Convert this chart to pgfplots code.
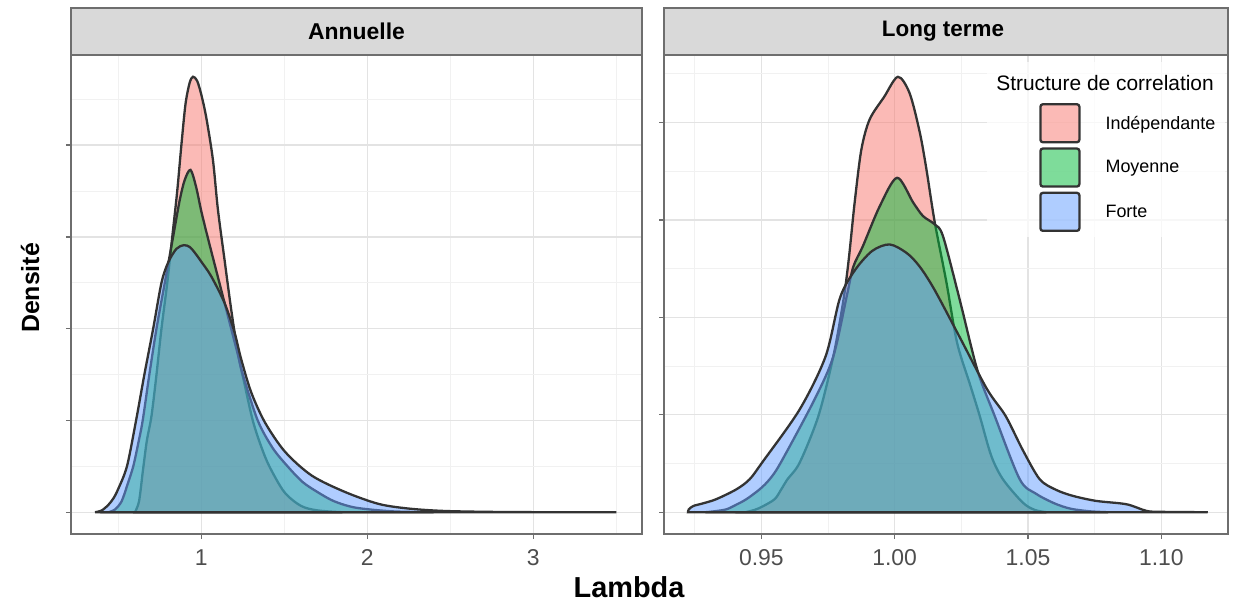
\documentclass[border=0pt]{standalone}
\usepackage{fontspec}
\setmainfont{Liberation Sans}
\usepackage{pgfplots}
\pgfplotsset{compat=1.18}
\definecolor{cpink}{HTML}{F8766D}
\definecolor{cgreen}{HTML}{00BA38}
\definecolor{cblue}{HTML}{619CFF}
\definecolor{outl}{HTML}{333333}
\definecolor{gmaj}{HTML}{E3E3E3}
\definecolor{gmin}{HTML}{F1F1F1}
\definecolor{bord}{HTML}{6E6E6E}
\definecolor{stripc}{HTML}{D9D9D9}
\definecolor{ticktxt}{HTML}{4D4D4D}
\pgfplotsset{
  dens/.style={draw=outl, line width=2.3bp, fill opacity=0.5, draw opacity=1, smooth, tension=0.5, mark=none},
  panel/.style={scale only axis, height=479bp, anchor=south west,
    axis line style={bord, line width=1.6bp},
    grid=both, major grid style={gmaj, line width=1.4bp}, minor grid style={gmin, line width=0.8bp},
    tick align=outside, major tick length=5bp, minor tick length=0pt,
    tick style={bord, line width=1.4bp}, tick pos=left,
    yticklabels={},
    xticklabel style={font=\fontsize{23}{25}\selectfont, text=ticktxt, yshift=-7bp},
  },
}
\begin{document}
\begin{tikzpicture}
\useasboundingbox (0,0) rectangle (1238bp,601bp);
% ---------------- Annuelle ----------------
\begin{axis}[panel, at={(71bp,67bp)}, width=571bp,
  xmin=0.215, xmax=3.655, ymin=-0.237, ymax=4.982,
  xtick={1,2,3}, xticklabels={1,2,3}, minor xtick={0.5,1.5,2.5,3.5},
  ytick={0,1,2,3,4}, minor ytick={0.5,1.5,2.5,3.5,4.5}]
\addplot[dens, fill=cpink] coordinates {
(0.60,0) (0.625,0.12) (0.648,0.45) (0.672,0.78) (0.70,1.05) (0.73,1.5) (0.76,2.0) (0.795,2.5)
(0.825,3.0) (0.855,3.5) (0.88,4.0) (0.905,4.45) (0.93,4.68) (0.95,4.745) (0.975,4.70) (1.00,4.55)
(1.03,4.30) (1.07,3.84) (1.10,3.30) (1.14,2.75) (1.18,2.21) (1.22,1.74) (1.26,1.4) (1.31,1.0)
(1.36,0.72) (1.41,0.5) (1.50,0.22) (1.60,0.07) (1.70,0.02) (1.85,0)} \closedcycle;
\addplot[dens, fill=cgreen] coordinates {
(0.44,0) (0.48,0.03) (0.52,0.12) (0.555,0.3) (0.59,0.5) (0.62,0.75) (0.647,1.0) (0.687,1.5)
(0.73,2.0) (0.78,2.5) (0.83,3.0) (0.87,3.4) (0.90,3.62) (0.935,3.73) (0.968,3.55) (1.00,3.28)
(1.038,3.0) (1.109,2.5) (1.18,2.0) (1.22,1.72) (1.25,1.5) (1.34,1.0) (1.43,0.7) (1.52,0.5)
(1.61,0.33) (1.70,0.22) (1.80,0.12) (1.93,0.05) (2.15,0.01) (2.4,0)} \closedcycle;
\addplot[dens, fill=cblue] coordinates {
(0.36,0) (0.40,0.02) (0.44,0.08) (0.47,0.15) (0.496,0.24) (0.552,0.5) (0.607,1.0) (0.657,1.5)
(0.71,2.0) (0.76,2.5) (0.80,2.72) (0.85,2.87) (0.895,2.91) (0.93,2.89) (0.96,2.83) (1.00,2.73)
(1.06,2.57) (1.14,2.28) (1.20,1.96) (1.24,1.67) (1.30,1.31) (1.383,0.98) (1.504,0.66) (1.665,0.40)
(1.867,0.22) (2.07,0.09) (2.25,0.04) (2.45,0.015) (2.7,0.005) (3.0,0.001) (3.5,0)} \closedcycle;
\end{axis}
% ---------------- Long terme ----------------
\begin{axis}[panel, at={(664bp,67bp)}, width=564bp,
  xmin=0.9135, xmax=1.125, ymin=-1.117, ymax=23.46,
  xtick={0.95,1,1.05,1.1}, xticklabels={0.95,1.00,1.05,1.10}, minor xtick={0.925,0.975,1.025,1.075},
  ytick={0,5,10,15,20}, minor ytick={2.5,7.5,12.5,17.5,22.5},
  legend cell align=left,
  legend image code/.code={\draw[#1, line width=2.3bp, rounded corners=2.5bp] (0bp,-19bp) rectangle (39bp,19bp);},
  legend style={at={(axis description cs:0.665,0.90)}, anchor=north west, draw=none, fill=none,
    inner sep=0pt, row sep=4bp, font=\fontsize{18}{20}\selectfont, nodes={inner sep=1bp},
    /tikz/every odd column/.append style={column sep=24bp}}]
\fill[white, opacity=0.75] (axis description cs:0.572,0.62) rectangle (axis description cs:0.995,0.985);
\addplot[dens, fill=cpink] coordinates {
(0.944,0) (0.9475,0.12) (0.9505,0.3) (0.955,0.67) (0.9575,1.18) (0.9598,1.69) (0.9644,2.55)
(0.9714,4.94) (0.977,8.0) (0.9808,10.9) (0.9828,13.0) (0.985,15.9) (0.9875,18.6) (0.9906,20.15)
(0.996,21.3) (1.0012,22.34) (1.0056,21.5) (1.0094,19.5) (1.0119,17.6) (1.015,14.9) (1.0194,11.8)
(1.0234,8.7) (1.0285,6.45) (1.0319,4.94) (1.0362,2.9) (1.0406,1.69) (1.048,0.5) (1.0525,0.12) (1.0569,0)} \closedcycle;
\addlegendentry{Indépendante}
\addplot[dens, fill=cgreen] coordinates {
(0.929,0) (0.9325,0.05) (0.9369,0.15) (0.9405,0.38) (0.9444,0.67) (0.9494,1.18) (0.9531,1.69)
(0.9573,2.55) (0.97,5.8) (0.977,8.0) (0.9822,11.2) (0.9845,12.6) (0.9881,13.66) (0.9944,15.7)
(1.0009,17.16) (1.0069,15.9) (1.0106,15.2) (1.015,14.77) (1.0181,14.17) (1.0244,10.9) (1.031,7.3)
(1.0375,4.94) (1.0469,1.69) (1.053,0.95) (1.060,0.45) (1.066,0.18) (1.073,0.05) (1.08,0)} \closedcycle;
\addlegendentry{Moyenne}
\addplot[dens, fill=cblue] coordinates {
(0.9225,0) (0.9228,0.15) (0.9245,0.32) (0.928,0.45) (0.9331,0.67) (0.9407,1.18) (0.9456,1.69)
(0.9503,2.55) (0.9644,5.28) (0.9741,8.0) (0.9795,11.0) (0.985,12.4) (0.9915,13.4) (0.9981,13.74)
(1.0045,13.3) (1.0094,12.6) (1.015,11.4) (1.0247,8.9) (1.0347,6.3) (1.0416,4.94) (1.048,3.2)
(1.0544,1.69) (1.0605,1.15) (1.0668,0.84) (1.0756,0.58) (1.0869,0.41) (1.0944,0.07) (1.100,0.02) (1.1174,0)} \closedcycle;
\addlegendentry{Forte}
\node[anchor=west, font=\fontsize{21}{23}\selectfont] at (axis description cs:0.583,0.9415) {Structure de correlation};
\end{axis}
% strips and titles
\draw[bord, line width=1.6bp, fill=stripc] (71bp,546bp) rectangle (642bp,593bp);
\draw[bord, line width=1.6bp, fill=stripc] (664bp,546bp) rectangle (1228bp,593bp);
\node[font=\bfseries\fontsize{23}{25}\selectfont] at (356.5bp,569.5bp) {Annuelle};
\node[font=\bfseries\fontsize{22.5}{25}\selectfont] at (943bp,569.5bp) {Long terme};
\node[rotate=90, font=\bfseries\fontsize{25}{27}\selectfont] at (30bp,313bp) {Densité};
\node[font=\bfseries\fontsize{29}{31}\selectfont] at (629bp,14bp) {Lambda};
\end{tikzpicture}
\end{document}
